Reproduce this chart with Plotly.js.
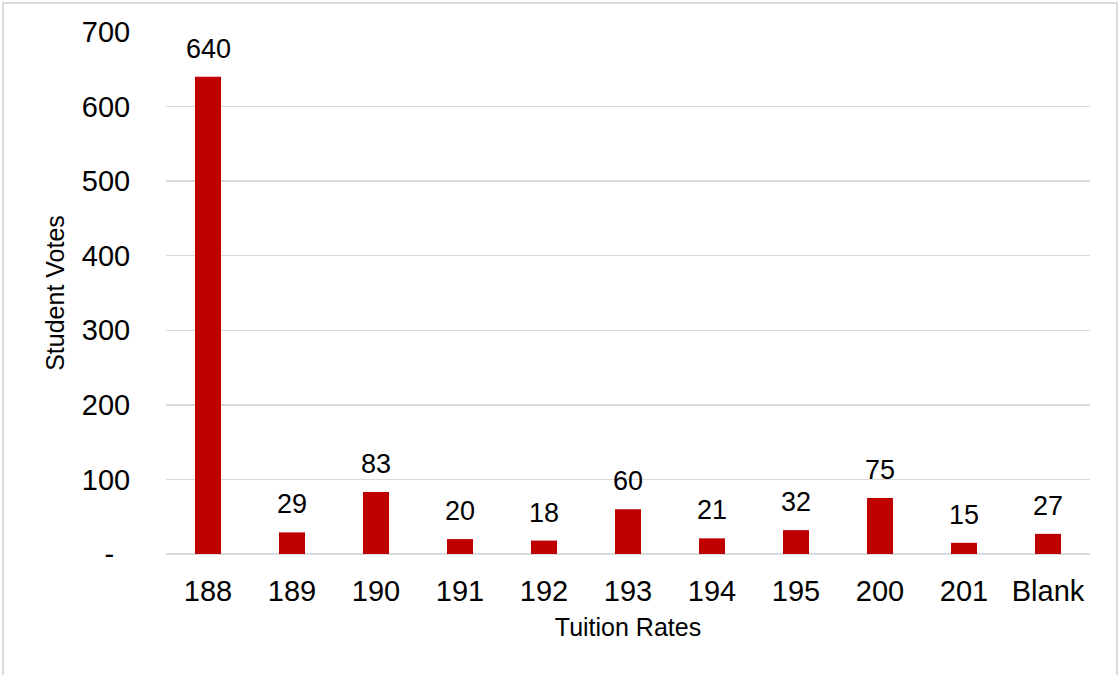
<!DOCTYPE html>
<html>
<head>
<meta charset="utf-8">
<script src="https://cdn.plot.ly/plotly-3.0.1.min.js"></script>
<style>
  html, body { margin: 0; padding: 0; background: #ffffff; }
  #wrap { position: relative; width: 1119px; height: 675px; overflow: hidden; }
  #chart { width: 1119px; height: 675px; }
  #frame {
    position: absolute; left: 2px; top: 2px; width: 1116px; height: 690px;
    border: 2px solid #d9d9d9; box-sizing: border-box; pointer-events: none;
  }
</style>
</head>
<body>
<div id="wrap">
  <div id="chart"></div>
  <div id="frame"></div>
</div>
<script>
// Student votes per tuition rate
const rates = ['188', '189', '190', '191', '192', '193', '194', '195', '200', '201', 'Blank'];
const votes = [640, 29, 83, 20, 18, 60, 21, 32, 75, 15, 27];

const yTickVals = [0, 100, 200, 300, 400, 500, 600, 700];
const yTickText = ['-\u00a0\u00a0', '100', '200', '300', '400', '500', '600', '700'];

const font = 'Liberation Sans, Arial, sans-serif';
const barColor = '#C00000';
const gridColor = '#d9d9d9';

const trace = {
  type: 'bar',
  x: rates,
  y: votes,
  marker: { color: barColor, line: { width: 0 } },
  hoverinfo: 'x+y'
};

// value labels sit a fixed distance above each bar (x given as category index)
const labels = rates.map((r, i) => ({
  x: i,
  y: votes[i],
  xref: 'x',
  yref: 'y',
  text: String(votes[i]),
  showarrow: false,
  yanchor: 'bottom',
  yshift: 11,
  font: { family: font, size: 27, color: '#000000' }
}));

const layout = {
  width: 1119,
  height: 675,
  margin: { l: 166, r: 29, t: 32, b: 121 },
  paper_bgcolor: '#ffffff',
  plot_bgcolor: '#ffffff',
  showlegend: false,
  bargap: 0.69,
  font: { family: font, color: '#000000' },
  xaxis: {
    type: 'category',
    range: [-0.5, rates.length - 0.5],
    tickangle: 0,
    showgrid: false,
    showline: false,
    zeroline: false,
    ticks: 'outside',
    ticklen: 11,
    tickcolor: 'rgba(0,0,0,0)',
    tickfont: { family: font, size: 29, color: '#000000' },
    title: { text: 'Tuition Rates', font: { family: font, size: 25, color: '#000000' }, standoff: 12 }
  },
  yaxis: {
    range: [0, 700],
    tickvals: yTickVals,
    ticktext: yTickText,
    showgrid: true,
    gridcolor: gridColor,
    gridwidth: 1.5,
    zeroline: true,
    zerolinecolor: gridColor,
    zerolinewidth: 1.5,
    showline: false,
    ticks: 'outside',
    ticklen: 29,
    tickcolor: 'rgba(0,0,0,0)',
    tickfont: { family: font, size: 29, color: '#000000' },
    title: { text: 'Student Votes', font: { family: font, size: 25, color: '#000000' }, standoff: 10 }
  },
  annotations: labels
};

Plotly.newPlot('chart', [trace], layout, { displayModeBar: false, staticPlot: true });
</script>
</body>
</html>
